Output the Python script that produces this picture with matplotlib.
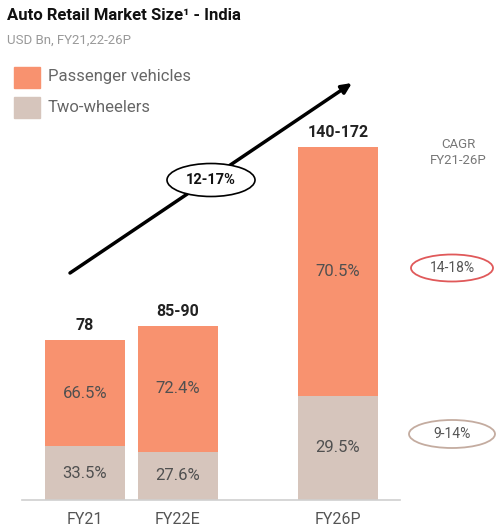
import matplotlib
matplotlib.use("Agg")
import matplotlib.pyplot as plt
from matplotlib.patches import Ellipse, Rectangle

plt.rcParams['font.family'] = ['Roboto', 'DejaVu Sans']

# data
years = ['FY21', 'FY22E', 'FY26P']
x_pos = [0, 1, 2.72]
market_size = [78, 85, 172]           # bar heights, USD Bn
size_labels = ['78', '85-90', '140-172']
pv_share = [66.5, 72.4, 70.5]
tw_share = [33.5, 27.6, 29.5]
cagr_total = '12-17%'
cagr_pv = '14-18%'
cagr_tw = '9-14%'

pv_color = '#F8926F'
tw_color = '#D6C5BC'

W, H = 497, 530
fig = plt.figure(figsize=(W / 100, H / 100), dpi=100)
ax = fig.add_axes([0, 0, 1, 1])
# pixel mapping: x_px = 85 + 93*x ; baseline at 30 px from the bottom, 2.05 px per unit
ax.set_xlim(-85 / 93, (W - 85) / 93)
ax.set_ylim(-30 / 2.05, (H - 30) / 2.05)
ax.axis('off')


def px(x, y):
    return x / W, 1 - y / H


tw_vals = [m * s / 100 for m, s in zip(market_size, tw_share)]
pv_vals = [m * s / 100 for m, s in zip(market_size, pv_share)]
ax.bar(x_pos, tw_vals, width=0.87, color=tw_color, zorder=2)
ax.bar(x_pos, pv_vals, bottom=tw_vals, width=0.87, color=pv_color, zorder=2)
ax.plot([-0.68, 3.39], [0, 0], color='#CFCFCF', lw=1.2, zorder=3)

for i, x in enumerate(x_pos):
    ax.text(x, tw_vals[i] / 2, f'{tw_share[i]}%', ha='center', va='center',
            fontsize=12, color='#505050')
    ax.text(x, tw_vals[i] + pv_vals[i] / 2, f'{pv_share[i]}%', ha='center', va='center',
            fontsize=12, color='#505050')
    ax.text(x, market_size[i] + 3.5, size_labels[i], ha='center', va='bottom',
            fontsize=11.5, fontweight='bold', color='#222222')
    ax.text(x, -6, years[i], ha='center', va='top', fontsize=11.5, color='#555555')

# title block
fig.text(*px(7, 16), 'Auto Retail Market Size\u00b9 - India', fontsize=12,
         fontweight='bold', color='#111111', va='center')
fig.text(*px(7, 40), 'USD Bn, FY21,22-26P', fontsize=9.5, color='#999999', va='center')

# legend
fig.patches.append(Rectangle(px(14, 88), 26 / W, 21 / H, transform=fig.transFigure,
                             color=pv_color))
fig.patches.append(Rectangle(px(14, 118), 26 / W, 21 / H, transform=fig.transFigure,
                             color=tw_color))
fig.text(*px(48, 77), 'Passenger vehicles', fontsize=12, color='#666666', va='center')
fig.text(*px(48, 107), 'Two-wheelers', fontsize=12, color='#666666', va='center')

# growth arrow
ax.annotate('', xy=px(352, 83), xytext=px(70, 273), xycoords='figure fraction',
            textcoords='figure fraction',
            arrowprops=dict(arrowstyle='-|>,head_length=0.6,head_width=0.28',
                            color='black', lw=2.5, shrinkA=0, shrinkB=0))
fig.patches.append(Ellipse(px(211, 180), 88 / W, 33 / H, transform=fig.transFigure,
                           facecolor='white', edgecolor='black', lw=1.2, zorder=5))
fig.text(*px(211, 180), cagr_total, ha='center', va='center', fontsize=10.5,
         fontweight='bold', color='#111111', zorder=6)

# CAGR column
fig.text(*px(458, 153), 'CAGR\nFY21-26P', ha='center', va='center', fontsize=9.5,
         color='#777777', linespacing=1.3)
fig.patches.append(Ellipse(px(452, 268), 82 / W, 27 / H, transform=fig.transFigure,
                           facecolor='white', edgecolor='#E0595A', lw=1.3))
fig.text(*px(452, 268), cagr_pv, ha='center', va='center', fontsize=10,
         color='#555555')
fig.patches.append(Ellipse(px(452, 434), 86 / W, 28 / H, transform=fig.transFigure,
                           facecolor='white', edgecolor='#C4ACA0', lw=1.3))
fig.text(*px(452, 434), cagr_tw, ha='center', va='center', fontsize=10,
         color='#555555')

fig.savefig('out.png', dpi=100)
